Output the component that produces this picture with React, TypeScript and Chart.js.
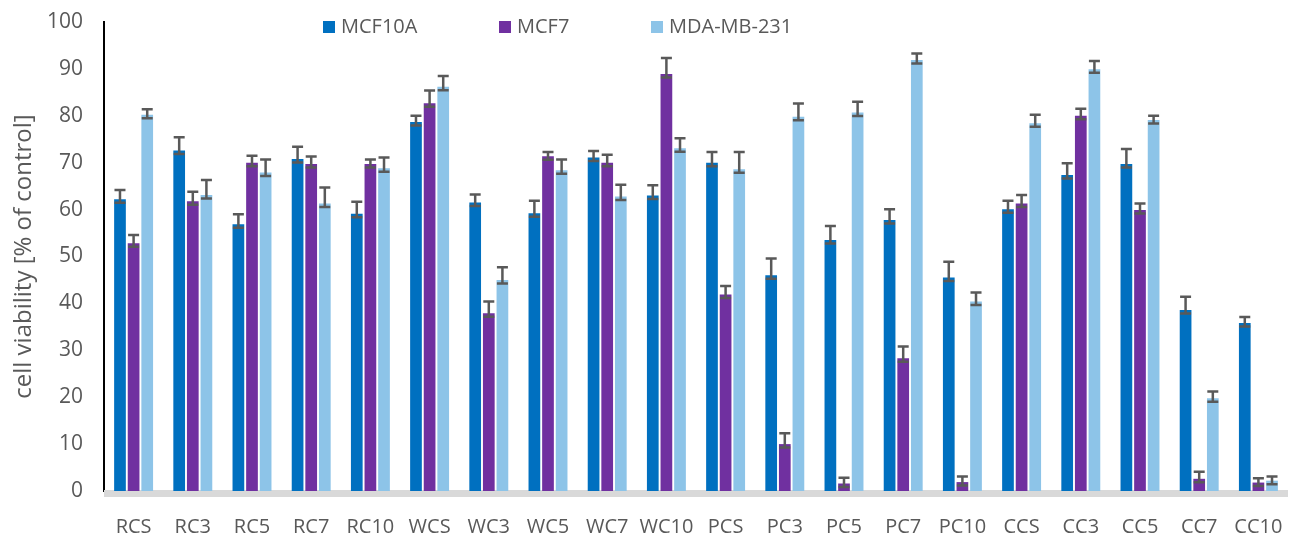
import React, { useEffect, useRef } from 'react';
import { Chart, registerables } from 'chart.js';

Chart.register(...registerables);

const categories = ['RCS', 'RC3', 'RC5', 'RC7', 'RC10', 'WCS', 'WC3', 'WC5', 'WC7', 'WC10', 'PCS', 'PC3', 'PC5', 'PC7', 'PC10', 'CCS', 'CC3', 'CC5', 'CC7', 'CC10'];
const seriesNames = ['MCF10A', 'MCF7', 'MDA-MB-231'];
const seriesColors = ['#0070C0', '#7030A0', '#8DC4E8'];

const mcf10a = [62.2, 72.6, 56.9, 70.8, 59.1, 78.7, 61.5, 59.2, 71.1, 63.0, 70.0, 46.0, 53.5, 57.8, 45.5, 60.1, 67.4, 69.7, 38.6, 35.8];
const mcf10aErr = [2.0, 2.8, 2.1, 2.6, 2.6, 1.3, 1.7, 2.7, 1.4, 2.2, 2.3, 3.6, 3.0, 2.3, 3.4, 1.8, 2.5, 3.2, 2.8, 1.3];
const mcf7 = [52.8, 61.8, 70.0, 69.7, 69.7, 82.7, 37.9, 71.4, 70.0, 88.9, 41.9, 10.0, 1.6, 28.3, 1.9, 61.3, 80.0, 59.9, 2.6, 1.8];
const mcf7Err = [1.8, 2.0, 1.5, 1.6, 1.0, 2.7, 2.5, 0.9, 1.7, 3.4, 1.8, 2.3, 1.2, 2.5, 1.2, 1.8, 1.5, 1.4, 1.5, 0.9];
const mda = [80.2, 63.1, 67.9, 61.3, 68.8, 86.2, 45.0, 68.4, 62.8, 73.1, 68.6, 79.8, 80.7, 91.9, 40.4, 78.4, 89.9, 79.1, 19.8, 2.2];
const mdaErr = [1.2, 3.2, 2.8, 3.4, 2.3, 2.3, 2.7, 2.3, 2.5, 2.1, 3.7, 2.8, 2.3, 1.4, 1.9, 1.8, 1.8, 0.9, 1.4, 0.9];

const yTitle = 'cell viability [% of control]';
const FONT = "'Open Sans', sans-serif";
const TEXT_COLOR = '#595959';

const errorSets = [mcf10aErr, mcf7Err, mdaErr];

const floorPlugin = {
  id: 'floor',
  beforeDatasetsDraw(chart: any) {
    const { ctx, chartArea } = chart;
    ctx.save();
    ctx.fillStyle = '#D9D9D9';
    ctx.fillRect(chartArea.left, chartArea.bottom - 1, chartArea.right - chartArea.left, 7);
    ctx.restore();
  },
};

const errorBarPlugin = {
  id: 'errorBars',
  afterDatasetsDraw(chart: any) {
    const { ctx } = chart;
    const yScale = chart.scales.y;
    ctx.save();
    ctx.strokeStyle = '#595959';
    ctx.lineWidth = 2.5;
    chart.data.datasets.forEach((ds: any, i: number) => {
      const meta = chart.getDatasetMeta(i);
      const errs = errorSets[i];
      meta.data.forEach((el: any, j: number) => {
        const v = ds.data[j];
        const x = el.x;
        const yTop = yScale.getPixelForValue(v + errs[j]);
        const yLow = Math.min(el.y + 3.5, yScale.getPixelForValue(0) - 1);
        const half = 5.5;
        ctx.beginPath();
        ctx.moveTo(x, yLow);
        ctx.lineTo(x, yTop);
        ctx.moveTo(x - half, yTop);
        ctx.lineTo(x + half, yTop);
        ctx.moveTo(x - half, yLow);
        ctx.lineTo(x + half, yLow);
        ctx.stroke();
      });
    });
    ctx.restore();
  },
};

const legendPlugin = {
  id: 'customLegend',
  afterDraw(chart: any) {
    const { ctx } = chart;
    const squareX = [323, 499, 651];
    ctx.save();
    ctx.font = `20px ${FONT}`;
    ctx.textBaseline = 'middle';
    ctx.textAlign = 'left';
    seriesNames.forEach((name, i) => {
      ctx.fillStyle = seriesColors[i];
      ctx.fillRect(squareX[i], 21, 12, 12);
      ctx.fillStyle = TEXT_COLOR;
      ctx.fillText(name, squareX[i] + 18, 27);
    });
    ctx.restore();
  },
};

export default function App() {
  const canvasRef = useRef<HTMLCanvasElement | null>(null);

  useEffect(() => {
    if (!canvasRef.current) return;
    const chart = new Chart(canvasRef.current, {
      type: 'bar',
      data: {
        labels: categories,
        datasets: [
          { label: seriesNames[0], data: mcf10a, backgroundColor: seriesColors[0] },
          { label: seriesNames[1], data: mcf7, backgroundColor: seriesColors[1] },
          { label: seriesNames[2], data: mda, backgroundColor: seriesColors[2] },
        ],
      },
      options: {
        responsive: false,
        animation: false,
        devicePixelRatio: 1,
        layout: { padding: { left: 0, right: 7, top: 22, bottom: 0 } },
        datasets: {
          bar: { categoryPercentage: 0.69, barPercentage: 0.86 },
        },
        plugins: {
          legend: { display: false },
          tooltip: { enabled: false },
        },
        scales: {
          x: {
            grid: { display: false, drawTicks: false },
            border: { display: false },
            ticks: {
              color: TEXT_COLOR,
              font: { family: FONT, size: 20 },
              padding: 24,
              maxRotation: 0,
              autoSkip: false,
            },
            afterFit(scale: any) {
              scale.height = 46;
              scale.paddingLeft = 0;
              scale.paddingRight = 0;
            },
          },
          y: {
            min: 0,
            max: 100,
            grid: { display: false, drawTicks: false },
            border: { display: true, color: '#000000', width: 2 },
            ticks: {
              stepSize: 10,
              color: TEXT_COLOR,
              font: { family: FONT, size: 21 },
              padding: 21,
            },
            title: {
              display: true,
              text: yTitle,
              color: TEXT_COLOR,
              font: { family: FONT, size: 24 },
              padding: { top: 10, bottom: 0 },
            },
            afterFit(scale: any) {
              scale.width = 104;
              scale.paddingTop = 0;
              scale.paddingBottom = 0;
            },
          },
        },
      },
      plugins: [floorPlugin, errorBarPlugin, legendPlugin],
    });
    return () => chart.destroy();
  }, []);

  return (
    <div style={{ position: 'fixed', left: 0, top: 0, width: 1295, height: 537, background: '#fff' }}>
      <canvas ref={canvasRef} width={1295} height={537} />
    </div>
  );
}
